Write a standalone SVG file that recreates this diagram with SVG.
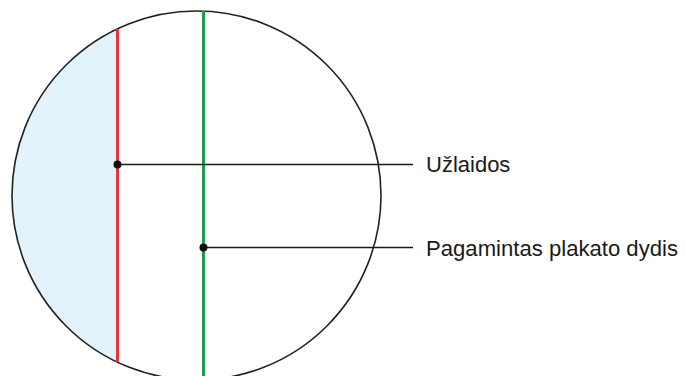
<svg xmlns="http://www.w3.org/2000/svg" width="686" height="376" viewBox="0 0 686 376">
  <style>
    .label { font-family: "Liberation Sans", Arial, sans-serif; font-size: 22px; fill: #1a1a1a; }
    .leader { stroke: #1a1a1a; stroke-width: 1.5; fill: none; }
    .dot { fill: #111; }
  </style>
  <rect width="686" height="376" fill="#ffffff"/>
  <g id="poster">
    <path d="M 117 29 A 184.5 184.5 0 0 0 117 362 Z" fill="#e2f3fb"/>
    <circle cx="196.5" cy="195.5" r="184.5" fill="none" stroke="#222" stroke-width="1.6"/>
  </g>
  <g id="seam-line">
    <line x1="117.5" y1="29" x2="117.5" y2="362" stroke="#ec3237" stroke-width="3"/>
  </g>
  <g id="size-line">
    <line x1="203.5" y1="11" x2="203.5" y2="376" stroke="#1c9b4f" stroke-width="3"/>
  </g>
  <g id="connectors">
    <line class="leader" x1="117.5" y1="164.5" x2="413" y2="164.5"/>
    <line class="leader" x1="203.5" y1="247.5" x2="413" y2="247.5"/>
    <circle class="dot" cx="117.5" cy="164.5" r="4"/>
    <circle class="dot" cx="203.5" cy="247.5" r="4"/>
  </g>
  <g id="label-uzlaidos">
    <text class="label" x="426" y="172">Užlaidos</text>
  </g>
  <g id="label-pagamintas">
    <text class="label" x="426" y="256" textLength="252" lengthAdjust="spacingAndGlyphs">Pagamintas plakato dydis</text>
  </g>
</svg>
